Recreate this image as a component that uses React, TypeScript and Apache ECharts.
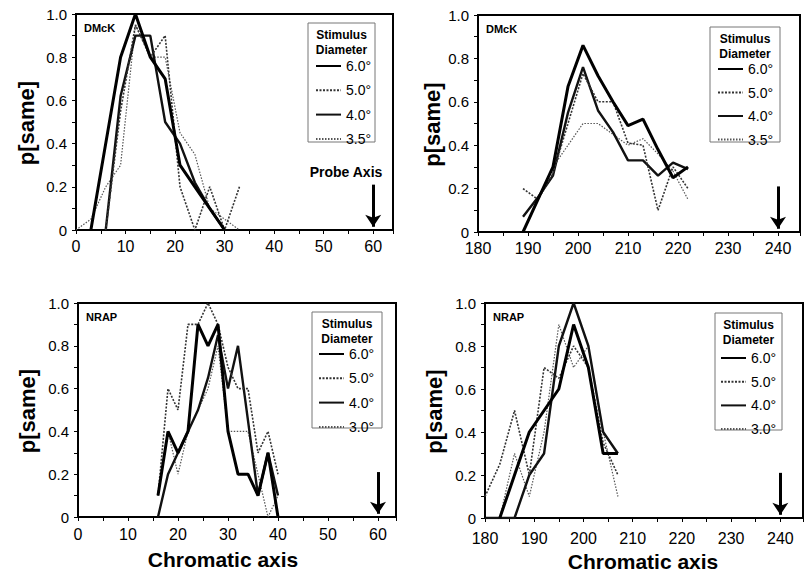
import React, { useEffect, useRef } from 'react';
import * as echarts from 'echarts';

// Legend names
const namesA = ['6.0°', '5.0°', '4.0°', '3.5°'];
const namesB = ['6.0°', '5.0°', '4.0°', '3.0°'];

// Panel 1: DMcK, near axis (chromatic axis 0..60)
const p1s60 = [[3, 0], [6, 0.4], [9, 0.8], [12, 1.0], [15, 0.8], [18, 0.7], [21, 0.3], [24, 0.2], [27, 0.1], [30, 0]];
const p1s50 = [[6, 0], [9, 0.55], [12, 0.95], [15, 0.8], [18, 0.9], [21, 0.2], [24, 0], [27, 0.2], [30, 0], [33, 0.2]];
const p1s40 = [[6, 0], [9, 0.62], [12, 0.9], [15, 0.9], [18, 0.5], [21, 0.4], [24, 0.22], [27, 0.1], [30, 0]];
const p1s35 = [[0, 0], [3, 0.05], [6, 0.2], [9, 0.3], [12, 0.95], [15, 0.8], [18, 0.8], [21, 0.45], [24, 0.35], [27, 0.1], [30, 0.05], [33, 0]];

// Panel 2: DMcK, far axis (180..240)
const p2s60 = [[189, 0], [192, 0.15], [195, 0.3], [198, 0.67], [201, 0.86], [204, 0.72], [207, 0.6], [210, 0.49], [213, 0.52], [216, 0.38], [219, 0.25], [222, 0.3]];
const p2s50 = [[189, 0.2], [192, 0.15], [195, 0.27], [198, 0.5], [201, 0.73], [204, 0.6], [207, 0.6], [210, 0.41], [213, 0.4], [216, 0.1], [219, 0.3], [222, 0.2]];
const p2s40 = [[189, 0.07], [192, 0.16], [195, 0.26], [198, 0.55], [201, 0.76], [204, 0.56], [207, 0.46], [210, 0.33], [213, 0.33], [216, 0.26], [219, 0.32], [222, 0.29]];
const p2s35 = [[192, 0.15], [195, 0.3], [198, 0.4], [201, 0.5], [204, 0.5], [207, 0.45], [210, 0.4], [213, 0.43], [216, 0.36], [219, 0.28], [222, 0.15]];

// Panel 3: NRAP, near axis (0..60)
const p3s60 = [[16, 0.1], [18, 0.4], [20, 0.3], [22, 0.4], [24, 0.9], [26, 0.8], [28, 0.9], [30, 0.4], [32, 0.2], [34, 0.2], [36, 0.1], [38, 0.3], [40, 0]];
const p3s50 = [[16, 0.1], [18, 0.6], [20, 0.5], [22, 0.9], [24, 0.9], [26, 1.0], [28, 0.9], [30, 0.7], [32, 0.6], [34, 0.6], [36, 0.3], [38, 0.4], [40, 0.2]];
const p3s40 = [[16, 0], [18, 0.2], [20, 0.3], [22, 0.4], [24, 0.5], [26, 0.65], [28, 0.85], [30, 0.6], [32, 0.8], [34, 0.45], [36, 0.1], [38, 0.3], [40, 0.1]];
const p3s30 = [[16, 0.1], [18, 0.4], [20, 0.2], [22, 0.4], [24, 0.5], [26, 0.6], [28, 0.8], [30, 0.4], [32, 0.4], [34, 0.4], [36, 0.2], [38, 0], [40, 0.1]];

// Panel 4: NRAP, far axis (180..240)
const p4s60 = [[183, 0], [186, 0.2], [189, 0.4], [192, 0.5], [195, 0.6], [198, 0.9], [201, 0.7], [204, 0.3], [207, 0.3]];
const p4s50 = [[180, 0.1], [183, 0.25], [186, 0.5], [189, 0.2], [192, 0.7], [195, 0.65], [198, 0.8], [201, 0.7], [204, 0.35], [207, 0.2]];
const p4s40 = [[180, 0], [183, 0], [186, 0], [189, 0.2], [192, 0.3], [195, 0.8], [198, 1.0], [201, 0.8], [204, 0.4], [207, 0.3]];
const p4s30 = [[183, 0], [186, 0.3], [189, 0.1], [192, 0.4], [195, 0.9], [198, 0.7], [201, 0.8], [204, 0.4], [207, 0.1]];

// Axis ranges and probe axis location
const xMins = [0, 180, 0, 180];
const xMaxs = [64, 244.4, 63.6, 244.6];
const probeAxis = [60, 240, 60, 240];
const arrowTop = 0.21;
const arrowTip = 0.015;
const observers = ['DMcK', 'DMcK', 'NRAP', 'NRAP'];

const FONT = '"Liberation Sans", Arial, Helvetica, sans-serif';

const panelData = [
  [p1s60, p1s50, p1s40, p1s35],
  [p2s60, p2s50, p2s40, p2s35],
  [p3s60, p3s50, p3s40, p3s30],
  [p4s60, p4s50, p4s40, p4s30],
];
const panelNames = [namesA, namesA, namesB, namesB];

const lineStyles = [
  { color: '#000', width: 3, type: 'solid' },
  { color: '#333', width: 1.6, type: [2, 1.5] },
  { color: '#111', width: 2.4, type: 'solid' },
  { color: '#555', width: 1.2, type: [1.5, 1.5] },
];

const grids = [
  { left: 76, top: 14, width: 317, height: 216 },
  { left: 478, top: 15, width: 322, height: 217 },
  { left: 78, top: 303, width: 318, height: 214 },
  { left: 485, top: 303, width: 318, height: 215 },
];
const xLabelMargins = [8, 8, 9, 12];
const yTitleX = [26, 432, 27, 434];

const legendPos = [
  { left: 315, top: 59, gap: 10.3 },
  { left: 717, top: 62, gap: 9.5 },
  { left: 318, top: 347, gap: 10.3 },
  { left: 720, top: 351, gap: 9.7 },
];

const legendBoxes = [
  { x: 308, y: 23, w: 67, h: 119 },
  { x: 710, y: 27, w: 70, h: 115 },
  { x: 312, y: 312, w: 70, h: 116 },
  { x: 715, y: 313, w: 67, h: 117 },
];

export default function App() {
  const ref = useRef<HTMLDivElement>(null);
  useEffect(() => {
    if (!ref.current) return;
    const chart = echarts.init(ref.current, null, { renderer: 'svg' });

    const xAxis = grids.map((_, i) => ({
      type: 'value',
      gridIndex: i,
      min: xMins[i],
      max: xMaxs[i],
      interval: 5,
      axisLine: { show: true, lineStyle: { color: '#000', width: 2 } },
      axisTick: { show: true, length: 4, lineStyle: { color: '#000', width: 1 } },
      splitLine: { show: false },
      axisLabel: {
        color: '#000',
        fontSize: 16,
        fontFamily: FONT,
        margin: xLabelMargins[i],
        formatter: (v: number) => (Math.abs(v % 10) < 1e-6 ? String(v) : ''),
      },
    }));

    const yAxis = grids.map((_, i) => ({
      type: 'value',
      gridIndex: i,
      min: 0,
      max: 1,
      interval: 0.1,
      axisLine: { show: true, lineStyle: { color: '#000', width: 2 } },
      axisTick: { show: true, length: 4, lineStyle: { color: '#000', width: 1 } },
      splitLine: { show: false },
      axisLabel: {
        color: '#000',
        fontSize: 15,
        fontFamily: FONT,
        margin: 9,
        formatter: (v: number) => {
          const r = Math.round(v * 10);
          if (r % 2 !== 0) return '';
          return r === 0 ? '0' : v.toFixed(1);
        },
      },
    }));

    const series: any[] = [];
    panelData.forEach((sets, p) => {
      sets.forEach((data, k) => {
        const s: any = {
          type: 'line',
          name: panelNames[p][k],
          xAxisIndex: p,
          yAxisIndex: p,
          data,
          symbol: 'none',
          silent: true,
          lineStyle: lineStyles[k],
          itemStyle: { color: lineStyles[k].color },
          z: 4 - k,
        };
        if (k === 0) {
          s.markLine = {
            silent: true,
            symbol: ['none', 'arrow'],
            symbolSize: [12, 12],
            label: { show: false },
            lineStyle: { color: '#000', width: 3, type: 'solid' },
            data: [[{ coord: [probeAxis[p], arrowTop] }, { coord: [probeAxis[p], arrowTip] }]],
          };
        }
        series.push(s);
      });
    });

    const legend = legendPos.map((lp, p) => ({
      orient: 'vertical',
      left: lp.left,
      top: lp.top,
      padding: 0,
      itemWidth: 25,
      itemHeight: 12,
      itemGap: lp.gap,
      selectedMode: false,
      data: panelNames[p],
      itemStyle: { opacity: 0 },
      textStyle: { fontSize: 14, color: '#000', fontFamily: FONT },
    }));

    const graphic: any[] = [];
    legendBoxes.forEach((b) => {
      graphic.push({
        type: 'rect',
        shape: { x: b.x, y: b.y, width: b.w, height: b.h },
        style: { fill: 'none', stroke: '#777', lineWidth: 1 },
      });
      graphic.push({
        type: 'text',
        x: b.x + b.w / 2,
        y: b.y + 4,
        style: {
          text: 'Stimulus\nDiameter',
          fontSize: 12,
          fontWeight: 'bold',
          fontFamily: FONT,
          fill: '#000',
          align: 'center',
          verticalAlign: 'top',
          lineHeight: 15,
        },
      });
    });
    grids.forEach((g, p) => {
      graphic.push({
        type: 'text',
        x: g.left + 8,
        y: g.top + 8,
        style: { text: observers[p], fontSize: 11, fontWeight: 'bold', fontFamily: FONT, fill: '#000' },
      });
      graphic.push({
        type: 'text',
        x: yTitleX[p],
        y: g.top + g.height / 2 + 1,
        rotation: Math.PI / 2,
        style: {
          text: 'p[same]',
          fontSize: 22,
          fontWeight: 'bold',
          fontFamily: FONT,
          fill: '#000',
          align: 'center',
          verticalAlign: 'middle',
        },
      });
    });
    [
      { x: 223, y: 559 },
      { x: 643, y: 561 },
    ].forEach((pos) => {
      graphic.push({
        type: 'text',
        x: pos.x,
        y: pos.y,
        style: {
          text: 'Chromatic axis',
          fontSize: 21,
          fontWeight: 'bold',
          fontFamily: FONT,
          fill: '#000',
          align: 'center',
          verticalAlign: 'middle',
        },
      });
    });
    graphic.push({
      type: 'text',
      x: 346,
      y: 172,
      style: {
        text: 'Probe Axis',
        fontSize: 14,
        fontWeight: 'bold',
        fontFamily: FONT,
        fill: '#000',
        align: 'center',
        verticalAlign: 'middle',
      },
    });

    chart.setOption({
      animation: false,
      backgroundColor: '#fff',
      grid: grids.map((g) => ({ ...g, show: true, borderColor: '#000', borderWidth: 2, backgroundColor: 'transparent' })),
      xAxis,
      yAxis,
      legend,
      series,
      graphic,
    });
    return () => chart.dispose();
  }, []);
  return <div ref={ref} style={{ position: 'fixed', left: 0, top: 0, width: 807, height: 582 }} />;
}
